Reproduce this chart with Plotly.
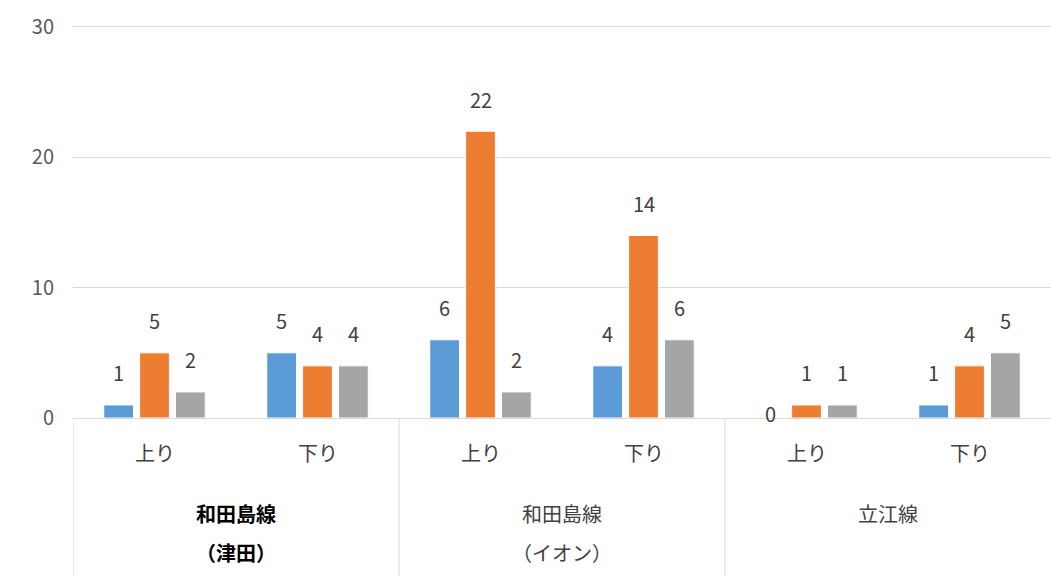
import plotly.graph_objects as go

groups = ["和田島線<br>（津田）", "和田島線<br>（イオン）", "立江線"]
directions = ["上り", "下り"]
series_names = ["系列1", "系列2", "系列3"]
blue_vals = [1, 5, 6, 4, 0, 1]
orange_vals = [5, 4, 22, 14, 1, 4]
gray_vals = [2, 4, 2, 6, 1, 5]
y_ticks = [0, 10, 20, 30]

colors = ["#5B9BD5", "#ED7D31", "#A5A5A5"]
all_vals = [blue_vals, orange_vals, gray_vals]
font = "Noto Sans CJK JP"
bargap = 0.34

xs = list(range(len(blue_vals)))
fig = go.Figure()
for name, vals, col in zip(series_names, all_vals, colors):
    fig.add_trace(go.Bar(x=xs, y=vals, name=name, marker=dict(color=col, line=dict(color="white", width=1)),
                         hoverinfo="y"))

annotations = []
# data labels
slot = (1 - bargap) / 3
for j, vals in enumerate(all_vals):
    for i, v in enumerate(vals):
        annotations.append(dict(x=i + (j - 1) * slot, y=v, text=str(v), showarrow=False,
                                yanchor="middle", yshift=32 if v > 0 else 5,
                                font=dict(size=20, color="#404040", family=font)))

# category labels
for g, grp in enumerate(groups):
    for d, dr in enumerate(directions):
        annotations.append(dict(x=g * 2 + d, y=-0.087, xref="x", yref="paper", text=dr, showarrow=False,
                                yanchor="middle", font=dict(size=20, color="#404040", family=font)))
    lines = grp.split("<br>")
    for k, ln in enumerate(lines):
        txt = "<b>" + ln + "</b>" if g == 0 else ln
        annotations.append(dict(x=g * 2 + 0.5, y=-0.243 - 0.097 * k, xref="x", yref="paper", text=txt,
                                showarrow=False, yanchor="middle",
                                font=dict(size=20, color="#000000" if g == 0 else "#404040", family=font)))

shapes = []
for g in range(len(groups)):
    shapes.append(dict(type="line", xref="x", yref="paper", x0=g * 2 - 0.5, x1=g * 2 - 0.5, y0=0, y1=-0.42,
                       line=dict(color="#d9d9d9", width=1)))

fig.update_layout(
    width=1051, height=576,
    margin=dict(l=73, r=0, t=23, b=158),
    paper_bgcolor="white", plot_bgcolor="white",
    barmode="group", bargap=bargap, bargroupgap=0.17,
    showlegend=False,
    font=dict(family=font, size=20, color="#595959"),
    xaxis=dict(range=[-0.5, 5.5], showticklabels=False, showgrid=False, zeroline=False,
               showline=True, linecolor="#d9d9d9", linewidth=1),
    # a little headroom so the 30 gridline is drawn
    yaxis=dict(range=[0, 30.3], tickvals=y_ticks, showgrid=True, gridcolor="#d9d9d9", gridwidth=1,
               zeroline=False, showline=False, ticklabelstandoff=18,
               tickfont=dict(size=20, color="#595959", family=font)),
    annotations=annotations, shapes=shapes,
)

fig.write_html("out.html", config={"displayModeBar": False},
               post_script="document.body.style.margin='0';")
